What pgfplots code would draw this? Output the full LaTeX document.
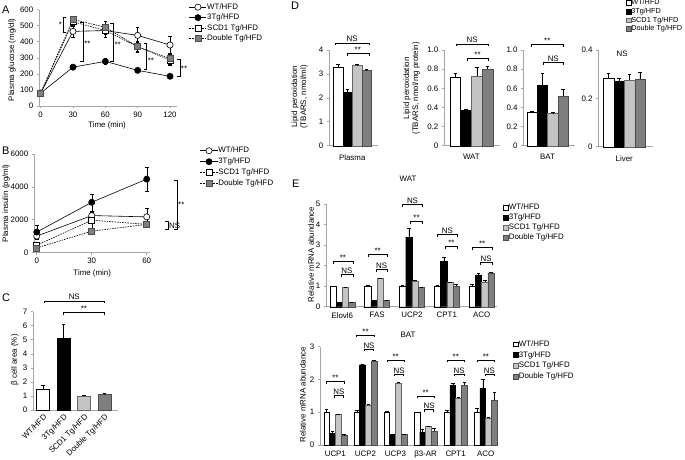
\documentclass[border=0pt]{standalone}
\usepackage{fontspec}
\setmainfont{Liberation Sans}
\usepackage{pgfplots}
\usepackage{pgfplotstable}
\pgfplotsset{compat=1.18}
\usetikzlibrary{calc}

\definecolor{lgray}{HTML}{C4C4C4}
\definecolor{dgray}{HTML}{7F7F7F}
\definecolor{axgray}{HTML}{A6A6A6}

\newcommand\fs{\fontsize{7.9}{9}\selectfont}
\newcommand\fss{\fontsize{7.3}{8.5}\selectfont}
\newcommand\fsl{\fontsize{11}{12}\selectfont}

% bracket over bars: x1, x2, y, text
\newcommand\brk[4]{%
  \draw[line width=0.45pt] ([yshift=-2.5pt]axis cs:#1,#3) -- (axis cs:#1,#3) -- (axis cs:#2,#3) -- ([yshift=-2.5pt]axis cs:#2,#3);
  \node[font=\fs, inner sep=0.6pt, anchor=south] at ($(axis cs:#1,#3)!0.5!(axis cs:#2,#3)$) {#4};}
% vertical bracket: x, y1, y2, tick
\newcommand\vbrk[4]{%
  \draw[line width=0.45pt] ([xshift=#4]axis cs:#1,#2) -- (axis cs:#1,#2) -- (axis cs:#1,#3) -- ([xshift=#4]axis cs:#1,#3);}

\pgfplotsset{
  base/.style={
    scale only axis, clip=false, anchor=south west,
    axis lines*=left, axis line style={axgray, line width=0.6pt, -},
    xtick pos=bottom, ytick pos=left,
    tick align=outside, major tick length=2.2pt,
    tick style={axgray, line width=0.6pt},
    ticklabel style={font=\fs},
    label style={font=\fs},
    /pgf/number format/assume math mode=true,
    /pgf/number format/1000 sep={},
    legend cell align=left,
  },
  leg/.style n args={3}{legend style={draw=none, fill=none, font=\fs, inner sep=0pt,
      at={(axis description cs:#1,#2)}, anchor=north west, row sep=#3,
      nodes={inner sep=0.5pt, text height=5.6pt, text depth=1.4pt}}},
  sqleg/.style={legend image code/.code={\draw[##1, line width=0.4pt] (0pt,-2.4pt) rectangle (4.8pt,2.4pt);}},
  wt/.style={fill=white, draw=black, line width=0.4pt},
  tg/.style={fill=black, draw=black, line width=0.4pt},
  scd/.style={fill=lgray, draw=black!60, line width=0.4pt},
  dbl/.style={fill=dgray, draw=black!70, line width=0.4pt},
  ebar/.style={error bars/y dir=plus, error bars/y explicit,
    error bars/error bar style={line width=0.4pt, black, solid},
    error bars/error mark options={line width=0.4pt, black, mark size=1.8pt, rotate=90}},
  eline/.style={error bars/y dir=both, error bars/y explicit,
    error bars/error bar style={line width=0.4pt, black, solid},
    error bars/error mark options={line width=0.4pt, black, mark size=1.8pt, rotate=90}},
  lwt/.style={black, line width=0.6pt, mark=*, mark size=3.1pt, mark options={fill=white, solid}},
  ltg/.style={black, line width=0.6pt, mark=*, mark size=3.1pt, mark options={fill=black, solid}},
  lscd/.style={black, line width=0.6pt, dash pattern=on 1.6pt off 1pt, mark=square*, mark size=3pt, mark options={fill=white, solid}},
  ldbl/.style={black, line width=0.6pt, dash pattern=on 1.6pt off 1pt, mark=square*, mark size=3pt, mark options={fill=dgray, draw=black!70, solid}},
}

\pgfplotstableread{
x wt ewt tg etg scd escd dbl edbl
0 1.00 0.02 0.20 0.01 0.95 0.02 0.20 0.01
1 1.00 0.03 0.30 0.01 1.38 0.03 0.30 0.01
2 1.00 0.03 3.40 0.45 1.25 0.06 0.95 0.02
3 1.00 0.03 2.20 0.22 1.18 0.04 1.00 0.10
4 1.00 0.08 1.55 0.08 1.22 0.05 1.65 0.05
}\watdata

\pgfplotstableread{
x wt ewt tg etg scd escd dbl edbl
0 1.00 0.10 0.35 0.08 0.93 0.01 0.31 0.01
1 1.00 0.05 2.45 0.03 1.23 0.01 2.57 0.02
2 1.00 0.02 0.33 0.01 1.88 0.03 0.32 0.01
3 1.00 0.01 0.40 0.08 0.57 0.01 0.42 0.08
4 1.00 0.06 1.82 0.07 1.43 0.04 1.83 0.09
5 1.00 0.12 1.72 0.30 0.83 0.03 1.37 0.24
}\batdata

\begin{document}
\begin{tikzpicture}
\useasboundingbox (0,0) rectangle (685pt,459pt);

\node[font=\fsl, anchor=base west, inner sep=0pt] at (2pt,445pt) {A};
\node[font=\fsl, anchor=base west, inner sep=0pt] at (2pt,305pt) {B};
\node[font=\fsl, anchor=base west, inner sep=0pt] at (2pt,158pt) {C};
\node[font=\fsl, anchor=base west, inner sep=0pt] at (291pt,449pt) {D};
\node[font=\fsl, anchor=base west, inner sep=0pt] at (292pt,272pt) {E};
\node[font=\fs] at (408pt,280pt) {WAT};
\node[font=\fs] at (408pt,124pt) {BAT};

% ---------- A: glucose ----------
\begin{axis}[base, at={(39pt,353pt)}, width=137.5pt, height=96.3pt,
  xmin=-1.5, xmax=126, ymin=0, ymax=600,
  xtick={0,30,60,90,120}, ytick={0,100,...,600},
  xlabel={Time (min)}, ylabel={Plasma glucose (mg/dl)},
  xlabel style={at={(axis description cs:0.495,-0.2)}, anchor=center},
  ylabel style={at={(axis description cs:-0.195,0.48)}, anchor=center},
  leg={1.09}{1.07}{2.5pt}]
\addplot[lwt, eline] coordinates {(0,80) +- (0,6) (30,465) +- (0,35) (60,470) +- (0,25) (90,440) +- (0,50) (120,380) +- (0,55)};
\addlegendentry{WT/HFD}
\addplot[ltg, eline] coordinates {(0,80) +- (0,5) (30,242) +- (0,10) (60,278) +- (0,18) (90,222) +- (0,10) (120,185) +- (0,10)};
\addlegendentry{3Tg/HFD}
\addplot[lscd, eline] coordinates {(0,80) +- (0,5) (30,525) +- (0,20) (60,470) +- (0,40) (90,370) +- (0,30) (120,285) +- (0,30)};
\addlegendentry{SCD1 Tg/HFD}
\addplot[ldbl, eline] coordinates {(0,80) +- (0,5) (30,540) +- (0,20) (60,490) +- (0,40) (90,370) +- (0,35) (120,295) +- (0,35)};
\addlegendentry{Double Tg/HFD}
\vbrk{21}{459}{556}{3pt}
\node[font=\fs, anchor=east, inner sep=1pt] at (axis cs:21,505) {*};
\vbrk{39.5}{276}{519}{-3pt}
\node[font=\fs, anchor=west, inner sep=1pt] at (axis cs:39.5,390) {**};
\vbrk{67.4}{280}{515}{-3pt}
\node[font=\fs, anchor=west, inner sep=1pt] at (axis cs:67.4,380) {**};
\vbrk{98.3}{228}{394}{-3pt}
\node[font=\fs, anchor=west, inner sep=1pt] at (axis cs:98.3,280) {**};
\vbrk{129}{187}{290}{-3pt}
\node[font=\fs, anchor=west, inner sep=1pt] at (axis cs:129,232) {**};
\end{axis}

% ---------- B: insulin ----------
\begin{axis}[base, at={(34pt,206.5pt)}, width=116.4pt, height=98.5pt,
  xmin=-1.5, xmax=62, ymin=0, ymax=6000,
  xtick={0,30,60}, ytick={0,2000,4000,6000},
  xlabel={Time (min)}, ylabel={Plasma insulin (pg/ml)},
  xlabel style={at={(axis description cs:0.5,-0.21)}, anchor=center},
  ylabel style={at={(axis description cs:-0.24,0.5)}, anchor=center},
  leg={1.426}{1.076}{3pt}]
\addplot[lwt, eline] coordinates {(0,1000) +- (0,200) (30,2250) +- (0,280) (60,2170) +- (0,550)};
\addlegendentry{WT/HFD}
\addplot[ltg, eline] coordinates {(0,1245) +- (0,400) (30,3060) +- (0,520) (60,4470) +- (0,720)};
\addlegendentry{3Tg/HFD}
\addplot[lscd, eline] coordinates {(0,440) +- (0,150) (30,1970) +- (0,500) (60,1710) +- (0,100)};
\addlegendentry{SCD1 Tg/HFD}
\addplot[ldbl, eline] coordinates {(0,280) +- (0,100) (30,1300) +- (0,120) (60,1710) +- (0,100)};
\addlegendentry{Double Tg/HFD}
\vbrk{76.5}{1430}{4415}{-3pt}
\node[font=\fs, anchor=west, inner sep=1pt] at (axis cs:76.5,2890) {**};
\vbrk{71.6}{1410}{1875}{-3pt}
\node[font=\fs, anchor=west, inner sep=1pt] at (axis cs:71.6,1650) {NS};
\end{axis}

% ---------- C: beta cell area ----------
\begin{axis}[base, at={(33pt,49pt)}, width=85pt, height=98.3pt,
  xmin=-0.49, xmax=3.66, ymin=0, ymax=7, ytick={0,...,7},
  xtick={0,1,2,3}, xticklabels={WT/HFD,3Tg/HFD,SCD1 Tg/HFD,Double Tg/HFD},
  xticklabel style={rotate=45, anchor=north east, inner sep=1pt},
  xtick style={draw=none},
  ylabel={β cell area (\%)},
  ylabel style={at={(axis description cs:-0.215,0.51)}, anchor=center}]
\addplot[ybar, bar shift=0pt, bar width=13pt, wt, ebar] coordinates {(0,1.5) +- (0,0.3)};
\addplot[ybar, bar shift=0pt, bar width=13pt, tg, ebar] coordinates {(1,5.1) +- (0,1.0)};
\addplot[ybar, bar shift=0pt, bar width=13pt, scd, ebar] coordinates {(2,1.0) +- (0,0.06)};
\addplot[ybar, bar shift=0pt, bar width=13pt, dbl, ebar] coordinates {(3,1.1) +- (0,0.1)};
\brk{0.05}{3.0}{7.78}{NS}
\brk{1.0}{3.0}{6.93}{**}
\end{axis}

% ---------- D: Plasma ----------
\begin{axis}[base, at={(329pt,313.3pt)}, width=49pt, height=95.7pt,
  xmin=-0.947, xmax=4.21, ymin=0, ymax=4, ytick={0,...,4},
  xtick={1.5}, xticklabels={Plasma}, xtick style={draw=none},
  xticklabel style={yshift=-3pt},
  ylabel={Lipid peroxidation\\(TBARS, nmol/ml)},
  ylabel style={align=center, at={(axis description cs:-0.6,0.51)}, anchor=center}]
\addplot[ybar, bar shift=0pt, bar width=1, wt, ebar] coordinates {(0,3.3) +- (0,0.12)};
\addplot[ybar, bar shift=0pt, bar width=1, tg, ebar] coordinates {(1,2.25) +- (0,0.12)};
\addplot[ybar, bar shift=0pt, bar width=1, scd, ebar] coordinates {(2,3.35) +- (0,0.05)};
\addplot[ybar, bar shift=0pt, bar width=1, dbl, ebar] coordinates {(3,3.15) +- (0,0.03)};
\brk{-0.28}{3.24}{4.3}{NS}
\brk{0.93}{3.24}{3.86}{**}
\end{axis}

% ---------- D: WAT ----------
\begin{axis}[base, at={(444pt,313.3pt)}, width=56pt, height=95.7pt,
  xmin=-1.06, xmax=4.18, ymin=0, ymax=1, ytick={0,0.2,...,1.0},
  yticklabels={0,0.2,0.4,0.6,0.8,1.0},
  xtick={1.5}, xticklabels={WAT}, xtick style={draw=none},
  xticklabel style={yshift=-3pt},
  ylabel={Lipid peroxidation\\(TBARS, nmol/mg protein)},
  ylabel style={align=center, at={(axis description cs:-0.58,0.6)}, anchor=center}]
\addplot[ybar, bar shift=0pt, bar width=1, wt, ebar] coordinates {(0,0.72) +- (0,0.04)};
\addplot[ybar, bar shift=0pt, bar width=1, tg, ebar] coordinates {(1,0.37) +- (0,0.015)};
\addplot[ybar, bar shift=0pt, bar width=1, scd, ebar] coordinates {(2,0.73) +- (0,0.09)};
\addplot[ybar, bar shift=0pt, bar width=1, dbl, ebar] coordinates {(3,0.80) +- (0,0.03)};
\brk{0.1}{3.05}{1.065}{NS}
\brk{1.1}{3.05}{0.915}{**}
\end{axis}

% ---------- D: BAT ----------
\begin{axis}[base, at={(523.3pt,313.3pt)}, width=51.7pt, height=95.7pt,
  xmin=-0.83, xmax=4.14, ymin=0, ymax=1, ytick={0,0.2,...,1.0},
  yticklabels={0,0.2,0.4,0.6,0.8,1.0},
  xtick={1.5}, xticklabels={BAT}, xtick style={draw=none},
  xticklabel style={yshift=-3pt}]
\addplot[ybar, bar shift=0pt, bar width=1, wt, ebar] coordinates {(0,0.355) +- (0,0.01)};
\addplot[ybar, bar shift=0pt, bar width=1, tg, ebar] coordinates {(1,0.63) +- (0,0.125)};
\addplot[ybar, bar shift=0pt, bar width=1, scd, ebar] coordinates {(2,0.335) +- (0,0.02)};
\addplot[ybar, bar shift=0pt, bar width=1, dbl, ebar] coordinates {(3,0.52) +- (0,0.07)};
\brk{-0.1}{3.05}{1.06}{**}
\brk{1.05}{3.05}{0.87}{NS}
\end{axis}

% ---------- D: Liver ----------
\begin{axis}[base, at={(598.3pt,312.3pt)}, width=54.7pt, height=96.7pt,
  xmin=-0.97, xmax=4.24, ymin=0, ymax=0.4, ytick={0,0.2,0.4},
  yticklabels={0,0.2,0.4},
  xtick={1.5}, xticklabels={Liver}, xtick style={draw=none},
  xticklabel style={yshift=-3pt},
  leg={0.5}{1.527}{1.6pt},
  legend style={font=\fss, nodes={inner sep=0.3pt, text height=5.2pt, text depth=1.3pt}}]
\addplot[ybar, bar shift=0pt, bar width=1, wt, ebar, sqleg] coordinates {(0,0.285) +- (0,0.018)};
\addlegendentry{WT/HFD}
\addplot[ybar, bar shift=0pt, bar width=1, tg, ebar, sqleg] coordinates {(1,0.27) +- (0,0.015)};
\addlegendentry{3Tg/HFD}
\addplot[ybar, bar shift=0pt, bar width=1, scd, ebar, sqleg] coordinates {(2,0.275) +- (0,0.025)};
\addlegendentry{SCD1 Tg/HFD}
\addplot[ybar, bar shift=0pt, bar width=1, dbl, ebar, sqleg] coordinates {(3,0.28) +- (0,0.03)};
\addlegendentry{Double Tg/HFD}
\node[font=\fs, anchor=south] at (axis cs:1.3,0.36) {NS};
\end{axis}

% ---------- E: WAT mRNA ----------
\begin{axis}[base, at={(326pt,152.3pt)}, width=171pt, height=102.4pt,
  ybar=0pt, bar width=6.25pt,
  xmin=-0.468, xmax=4.44, ymin=0, ymax=5, ytick={0,...,5},
  xtick={0,...,4}, xticklabels={Elovl6,FAS,UCP2,CPT1,ACO}, xtick style={draw=none},
  ylabel={Relative mRNA abundance},
  ylabel style={at={(axis description cs:-0.087,0.51)}, anchor=center},
  leg={1.035}{1.008}{2pt}]
\addplot[wt, sqleg, ebar] table[x=x, y=wt, y error=ewt] {\watdata};
\addlegendentry{WT/HFD}
\addplot[tg, sqleg, ebar] table[x=x, y=tg, y error=etg] {\watdata};
\addlegendentry{3Tg/HFD}
\addplot[scd, sqleg, ebar] table[x=x, y=scd, y error=escd] {\watdata};
\addlegendentry{SCD1 Tg/HFD}
\addplot[dbl, sqleg, ebar] table[x=x, y=dbl, y error=edbl] {\watdata};
\addlegendentry{Double Tg/HFD}
\brk{-0.27}{0.30}{2.23}{**} \brk{-0.04}{0.30}{1.58}{NS}
\brk{0.73}{1.30}{2.56}{**} \brk{0.96}{1.30}{1.84}{NS}
\brk{1.73}{2.30}{5.0}{NS} \brk{1.96}{2.30}{4.15}{**}
\brk{2.73}{3.30}{3.53}{NS} \brk{2.96}{3.30}{2.93}{**}
\brk{3.73}{4.30}{2.88}{**} \brk{3.96}{4.30}{2.17}{NS}
\end{axis}

% ---------- E: BAT mRNA ----------
\begin{axis}[base, at={(320pt,14pt)}, width=178.3pt, height=98.3pt,
  ybar=0pt, bar width=5.8pt,
  xmin=-0.51, xmax=5.42, ymin=0, ymax=3, ytick={0,...,3},
  xtick={0,...,5}, xticklabels={UCP1,UCP2,UCP3,β3-AR,CPT1,ACO}, xtick style={draw=none},
  ylabel={Relative mRNA abundance},
  ylabel style={at={(axis description cs:-0.097,0.51)}, anchor=center},
  leg={1.082}{1.068}{2.8pt}]
\addplot[wt, sqleg, ebar] table[x=x, y=wt, y error=ewt] {\batdata};
\addlegendentry{WT/HFD}
\addplot[tg, sqleg, ebar] table[x=x, y=tg, y error=etg] {\batdata};
\addlegendentry{3Tg/HFD}
\addplot[scd, sqleg, ebar] table[x=x, y=scd, y error=escd] {\batdata};
\addlegendentry{SCD1 Tg/HFD}
\addplot[dbl, sqleg, ebar] table[x=x, y=dbl, y error=edbl] {\batdata};
\addlegendentry{Double Tg/HFD}
\brk{-0.29}{0.30}{1.95}{**} \brk{-0.03}{0.27}{1.52}{NS}
\brk{0.71}{1.30}{3.36}{**} \brk{0.97}{1.27}{2.93}{NS}
\brk{1.71}{2.30}{2.60}{**} \brk{1.97}{2.27}{2.17}{NS}
\brk{2.71}{3.30}{1.50}{**} \brk{2.97}{3.27}{1.09}{NS}
\brk{3.71}{4.30}{2.60}{**} \brk{3.97}{4.27}{2.17}{NS}
\brk{4.71}{5.30}{2.60}{**} \brk{4.97}{5.27}{2.17}{NS}
\end{axis}
\end{tikzpicture}
\end{document}
